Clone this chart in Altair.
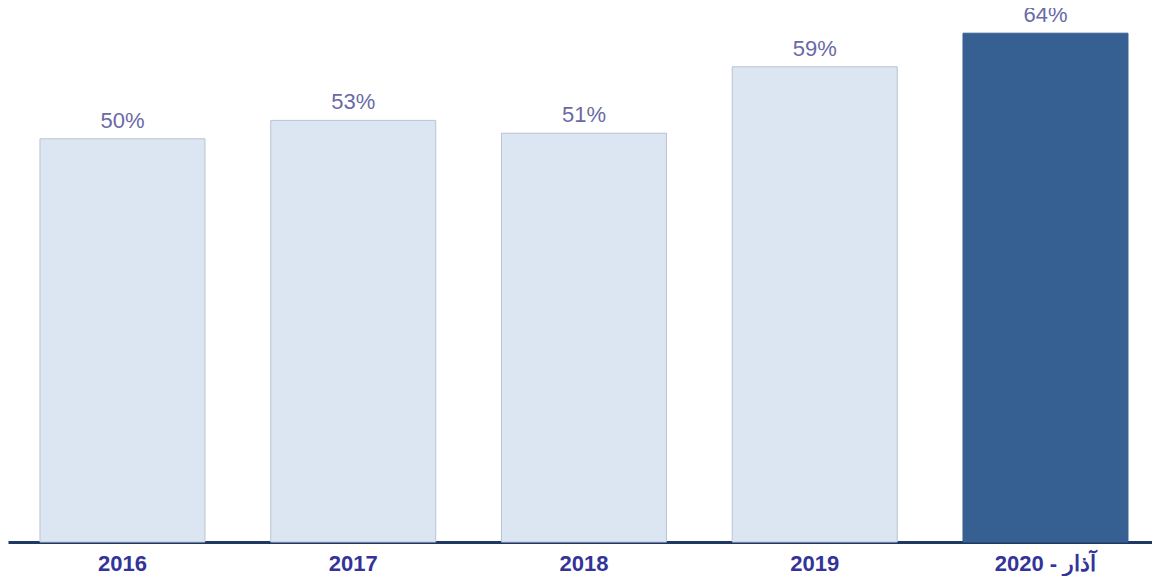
import altair as alt
import pandas as pd

categories = ["2016", "2017", "2018", "2019", "2020 - آذار"]
values = [50.4, 52.7, 51.1, 59.4, 63.6]
highlight = [False, False, False, False, True]

df = pd.DataFrame({"year": categories, "value": values, "hl": highlight})

x = alt.X("year:N", sort=categories, title=None,
          scale=alt.Scale(paddingInner=0.285, paddingOuter=0.1213, align=0.571),
          axis=alt.Axis(labelAngle=0, ticks=False, domainColor="#1f3864", domainWidth=3,
                        labelFont="Liberation Sans", labelFontSize=22, labelFontWeight="bold",
                        labelColor="#333399", labelPadding=11))
y = alt.Y("value:Q", scale=alt.Scale(domain=[0, 65.75], nice=False, zero=True), axis=None)

bars = alt.Chart(df).mark_bar(strokeWidth=1).encode(
    x=x, y=y,
    fill=alt.condition("datum.hl", alt.value("#366092"), alt.value("#dce6f2")),
    stroke=alt.condition("datum.hl", alt.value("#366092"), alt.value("#b9c3d3")),
)

labels = alt.Chart(df).transform_calculate(
    lbl="format(datum.value, '.0f') + '%'"
).mark_text(dy=-11, baseline="alphabetic", font="Liberation Sans", fontSize=22, color="#6a6aa6").encode(
    x=x, y=y, text="lbl:N"
)

chart = (bars + labels).properties(
    width=1144, height=526,
    padding={"left": 0, "top": 8, "right": 0, "bottom": 34},
    autosize=alt.AutoSizeParams(type="none"),
).configure_view(stroke=None)
chart.save("out.html", embed_options={"renderer": "svg", "actions": False})
